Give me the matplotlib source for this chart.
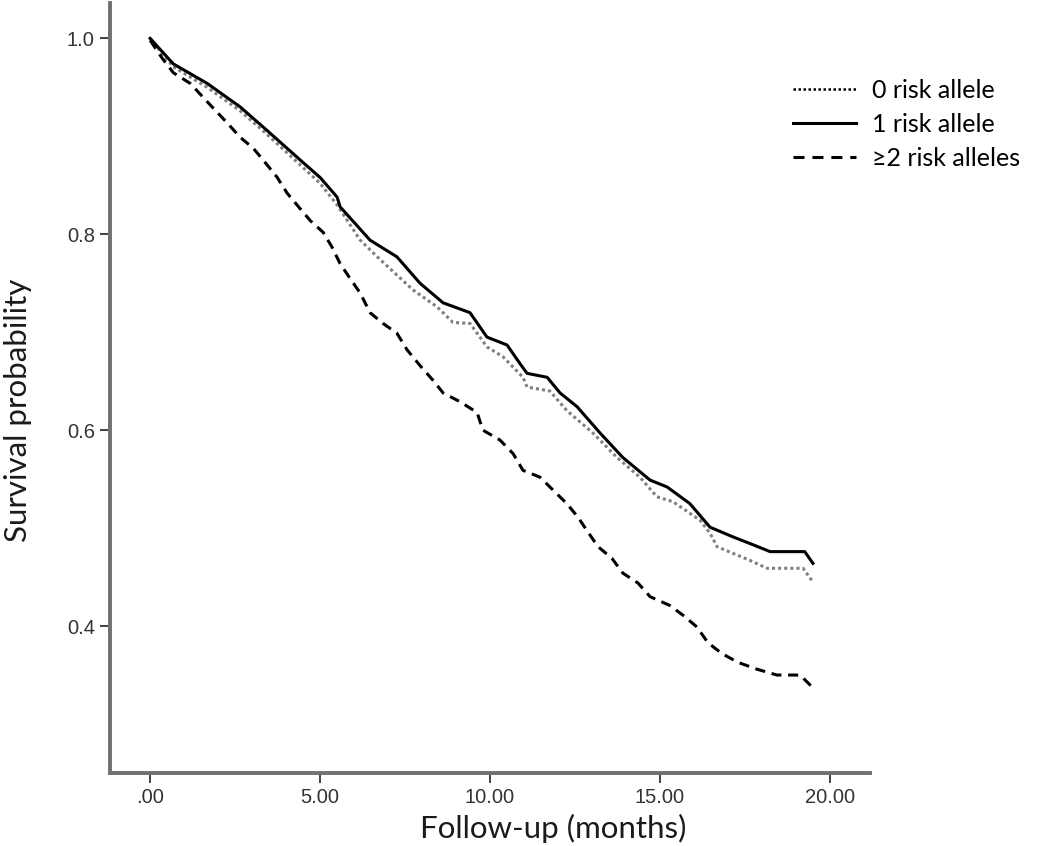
import matplotlib
matplotlib.use("Agg")
import matplotlib.pyplot as plt
from matplotlib.lines import Line2D

# Kaplan-Meier curves (months, survival probability)
months_0 = [0, 0.68, 1.68, 2.65, 3.44, 4.41, 5.0, 5.5, 6.18, 6.68, 7.74, 8.44, 8.91,
            9.41, 9.91, 10.38, 10.97, 11.09, 11.76, 12.26, 13.03, 13.74, 14.41, 14.91,
            15.38, 16.18, 16.47, 16.68, 17.65, 18.15, 19.21, 19.5]
surv_0 = [1.0, 0.971, 0.950, 0.926, 0.902, 0.871, 0.852, 0.83, 0.794, 0.777, 0.743,
          0.726, 0.71, 0.709, 0.685, 0.675, 0.654, 0.644, 0.64, 0.62, 0.597, 0.572,
          0.552, 0.532, 0.527, 0.508, 0.495, 0.481, 0.467, 0.459, 0.459, 0.445]

months_1 = [0, 0.68, 1.68, 2.65, 3.44, 4.41, 5.0, 5.5, 5.59, 6.47, 7.26, 7.94, 8.62,
            9.41, 9.91, 10.5, 10.88, 11.09, 11.68, 12.06, 12.56, 13.24, 13.91, 14.71,
            15.21, 15.88, 16.47, 17.15, 17.74, 18.24, 19.26, 19.5]
surv_1 = [1.0, 0.974, 0.954, 0.93, 0.906, 0.876, 0.858, 0.838, 0.828, 0.794, 0.777,
          0.75, 0.73, 0.72, 0.695, 0.687, 0.668, 0.658, 0.654, 0.638, 0.624, 0.597,
          0.572, 0.549, 0.542, 0.525, 0.501, 0.491, 0.483, 0.476, 0.476, 0.464]

months_2 = [0, 0.35, 0.68, 1.18, 1.85, 2.26, 2.65, 3.03, 3.32, 3.74, 4.03, 4.32, 4.71,
            5.09, 5.35, 5.59, 5.88, 6.18, 6.47, 6.85, 7.26, 7.56, 7.94, 8.32, 8.62,
            9.12, 9.62, 9.79, 10.29, 10.68, 10.97, 11.47, 11.85, 12.26, 12.59, 12.88,
            13.18, 13.59, 13.91, 14.35, 14.71, 15.29, 15.68, 16.09, 16.41, 16.82,
            17.29, 17.85, 18.44, 19.12, 19.21, 19.5]
surv_2 = [0.998, 0.98, 0.965, 0.954, 0.929, 0.914, 0.899, 0.888, 0.876, 0.858, 0.842,
          0.83, 0.814, 0.802, 0.787, 0.77, 0.755, 0.74, 0.72, 0.709, 0.699, 0.682,
          0.666, 0.651, 0.638, 0.629, 0.618, 0.6, 0.59, 0.576, 0.559, 0.552, 0.539,
          0.525, 0.511, 0.496, 0.481, 0.469, 0.454, 0.444, 0.43, 0.421, 0.411, 0.399,
          0.383, 0.372, 0.363, 0.356, 0.35, 0.35, 0.347, 0.337]

labels = ["0 risk allele", "1 risk allele", "\u22652 risk alleles"]
x_ticks = [0, 5, 10, 15, 20]
x_ticklabels = [".00", "5.00", "10.00", "15.00", "20.00"]
y_ticks = [0.4, 0.6, 0.8, 1.0]
y_ticklabels = ["0.4", "0.6", "0.8", "1.0"]

tick_font = ["Liberation Sans Narrow", "Liberation Sans", "DejaVu Sans"]
label_font = ["Lato", "DejaVu Sans"]

fig = plt.figure(figsize=(10.5, 8.46), dpi=100)
ax = fig.add_axes([0.1048, 0.0863, 0.7238, 0.91])

lw = 2.2
ax.plot(months_0, surv_0, color="#808080", lw=lw, linestyle=(0, (1, 1)))
ax.plot(months_1, surv_1, color="black", lw=lw)
ax.plot(months_2, surv_2, color="black", lw=lw, linestyle=(0, (3.3, 2.2)))

ax.set_xlim(-1.18, 21.18)
ax.set_ylim(0.25, 1.036)

ax.set_xticks(x_ticks)
ax.set_xticklabels(x_ticklabels)
ax.set_yticks(y_ticks)
ax.set_yticklabels(y_ticklabels)
for t in ax.get_xticklabels() + ax.get_yticklabels():
    t.set_family(tick_font)
    t.set_fontsize(14.5)
    t.set_color("#333333")
ax.tick_params(direction="out", length=7, width=1.3, color="#333333", pad=4)

for side in ["top", "right"]:
    ax.spines[side].set_visible(False)
for side in ["left", "bottom"]:
    ax.spines[side].set_color("#707070")
    ax.spines[side].set_linewidth(2.8)

fig.text(18 / 1050, 1 - 410 / 846, "Survival probability", rotation=90,
         ha="center", va="center", fontsize=22.5, family=label_font, color="#1a1a1a")
fig.text(553 / 1050, 1 - 828 / 846, "Follow-up (months)",
         ha="center", va="center", fontsize=22.5, family=label_font, color="#1a1a1a")

handles = [
    Line2D([], [], color="black", lw=1.8, linestyle=(0, (1, 1))),
    Line2D([], [], color="black", lw=2.2),
    Line2D([], [], color="black", lw=2.2, linestyle=(0, (3.6, 2.6))),
]
leg = fig.legend(handles, labels, loc="upper left",
                 bbox_to_anchor=(793 / 1050, 1 - 79 / 846),
                 frameon=False, handlelength=2.5,
                 handletextpad=0.64, labelspacing=0.44, borderpad=0,
                 borderaxespad=0, prop={"family": label_font, "size": 18})

fig.savefig("out.png", dpi=100)
